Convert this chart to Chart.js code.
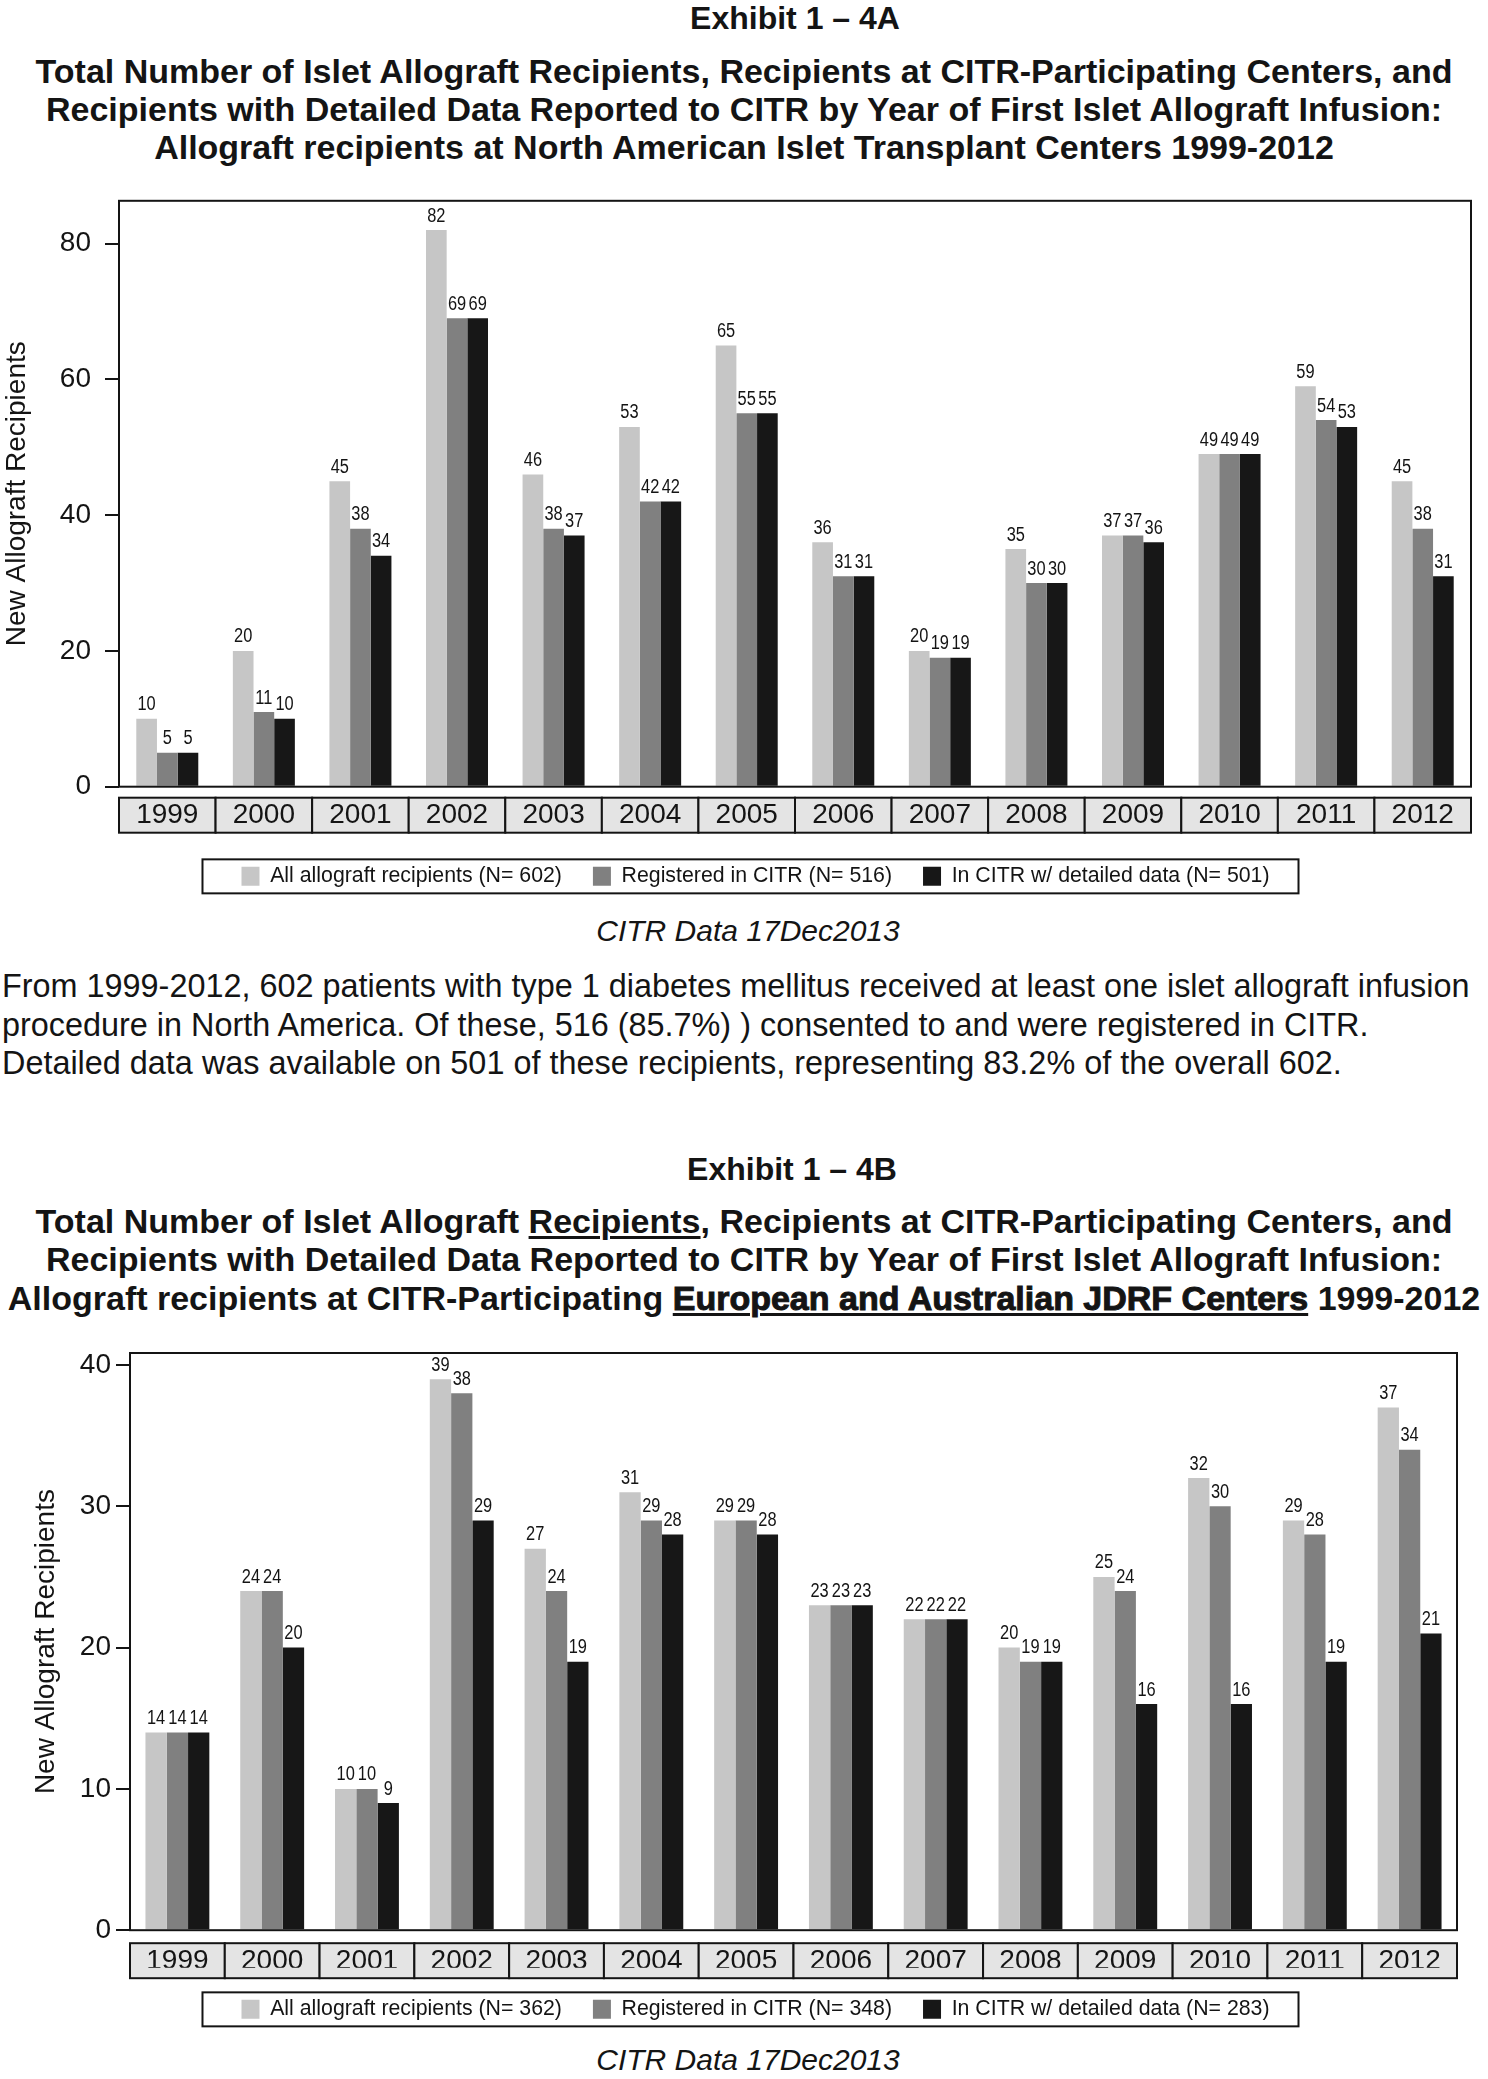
<!DOCTYPE html>
<html>
<head>
    <meta charset="UTF-8">
    <title>CITR Exhibit 1-4A / 1-4B</title>
    <script src="https://cdn.jsdelivr.net/npm/chart.js@4.4.1/dist/chart.umd.min.js"></script>
    <style>
        body {
            margin: 0;
            width: 1488px;
            height: 2079px;
            position: relative;
            background: #fff;
            color: #141414;
            font-family: "Liberation Sans", Arial, sans-serif;
            overflow: hidden;
        }
        .txt {
            position: absolute;
            white-space: nowrap;
        }
        .exhibit {
            font-weight: bold;
            font-size: 32px;
            line-height: 40px;
            text-align: center;
        }
        .title {
            left: 0;
            width: 1488px;
            font-weight: bold;
            font-size: 34px;
            line-height: 40px;
            text-align: center;
        }
        .u {
            text-decoration: underline;
            text-decoration-thickness: 3px;
            text-underline-offset: 3px;
        }
        .heavy {
            -webkit-text-stroke: 1px #141414;
        }
        .src {
            left: 0;
            width: 1496px;
            font-style: italic;
            font-size: 30px;
            line-height: 36px;
            text-align: center;
        }
        .para {
            left: 2px;
            font-size: 32.4px;
            line-height: 38.5px;
        }
        canvas {
            position: absolute;
            left: 0;
        }
    </style>
</head>
<body>
    <div class="txt exhibit" style="left:595px; width:400px; top:-2px;">Exhibit 1 – 4A</div>
    <div class="txt title" style="top:51px;">Total Number of Islet Allograft Recipients, Recipients at CITR-Participating Centers, and</div>
    <div class="txt title" style="top:89px;">Recipients with Detailed Data Reported to CITR by Year of First Islet Allograft Infusion:</div>
    <div class="txt title" style="top:127px;">Allograft recipients at North American Islet Transplant Centers 1999-2012</div>

    <canvas id="chartA" width="1488" height="727" style="top:170px; width:1488px; height:727px;"></canvas>

    <div class="txt src" style="top:913px;">CITR Data 17Dec2013</div>

    <div class="txt para" style="top:967px;">From 1999-2012, 602 patients with type 1 diabetes mellitus received at least one islet allograft infusion</div>
    <div class="txt para" style="top:1006px;">procedure in North America. Of these, 516 (85.7%) ) consented to and were registered in CITR.</div>
    <div class="txt para" style="top:1044px;">Detailed data was available on 501 of these recipients, representing 83.2% of the overall 602.</div>

    <div class="txt exhibit" style="left:592px; width:400px; top:1149px;">Exhibit 1 – 4B</div>
    <div class="txt title" style="top:1201px;">Total Number of Islet Allograft <span class="u">Recipients</span>, Recipients at CITR-Participating Centers, and</div>
    <div class="txt title" style="top:1239px;">Recipients with Detailed Data Reported to CITR by Year of First Islet Allograft Infusion:</div>
    <div class="txt title" style="top:1278px;">Allograft recipients at CITR-Participating <span class="u heavy">European and Australian JDRF Centers</span> 1999-2012</div>

    <canvas id="chartB" width="1488" height="700" style="top:1330px; width:1488px; height:700px;"></canvas>

    <div class="txt src" style="top:2042px;">CITR Data 17Dec2013</div>

    <script>
        // 年（カテゴリ）
        const years = ['1999', '2000', '2001', '2002', '2003', '2004', '2005',
                       '2006', '2007', '2008', '2009', '2010', '2011', '2012'];

        // Exhibit 1-4A: North American centers
        const naAll = [10, 20, 45, 82, 46, 53, 65, 36, 20, 35, 37, 49, 59, 45];
        const naRegistered = [5, 11, 38, 69, 38, 42, 55, 31, 19, 30, 37, 49, 54, 38];
        const naDetailed = [5, 10, 34, 69, 37, 42, 55, 31, 19, 30, 36, 49, 53, 31];
        const naLegend = ['All allograft recipients (N= 602)', 'Registered in CITR (N= 516)', 'In CITR w/ detailed data (N= 501)'];

        // Exhibit 1-4B: European and Australian JDRF centers
        const euAll = [14, 24, 10, 39, 27, 31, 29, 23, 22, 20, 25, 32, 29, 37];
        const euRegistered = [14, 24, 10, 38, 24, 29, 29, 23, 22, 19, 24, 30, 28, 34];
        const euDetailed = [14, 20, 9, 29, 19, 28, 28, 23, 22, 19, 16, 16, 19, 21];
        const euLegend = ['All allograft recipients (N= 362)', 'Registered in CITR (N= 348)', 'In CITR w/ detailed data (N= 283)'];

        const barColors = ['#c6c6c6', '#808080', '#171717'];
        const ink = '#141414';
        const fontFamily = '"Liberation Sans", Arial, sans-serif';

        Chart.defaults.font.family = fontFamily;
        Chart.defaults.color = ink;

        // 年の帯（グレーの箱）をx軸の下に描く
        const yearBand = {
            id: 'yearBand',
            beforeDraw(chart, args, opts) {
                const {ctx, chartArea} = chart;
                const x = chart.scales.x;
                const w = x.getPixelForValue(1) - x.getPixelForValue(0);
                const top = chartArea.bottom + opts.gap;
                ctx.save();
                ctx.lineWidth = 2;
                ctx.strokeStyle = ink;
                ctx.fillStyle = '#e4e4e4';
                for (let i = 0; i < x.ticks.length; i++) {
                    const left = x.getPixelForValue(i) - w / 2;
                    ctx.fillRect(left, top, w, opts.height);
                    ctx.strokeRect(left, top, w, opts.height);
                }
                ctx.restore();
            },
            afterDraw(chart) {
                const {ctx, chartArea} = chart;
                ctx.save();
                ctx.lineWidth = 2;
                ctx.strokeStyle = ink;
                ctx.strokeRect(chartArea.left, chartArea.top,
                               chartArea.right - chartArea.left, chartArea.bottom - chartArea.top);
                // 凡例の枠
                const boxes = chart.legend.legendHitBoxes;
                if (boxes && boxes.length) {
                    const first = boxes[0];
                    const last = boxes[boxes.length - 1];
                    const cy = first.top + first.height / 2;
                    const l = first.left - 39;
                    const r = last.left + last.width + 29;
                    ctx.strokeRect(l, cy - 17, r - l, 34);
                }
                ctx.restore();
            }
        };

        // 棒の上に値を表示（少し細い字）
        const valueLabels = {
            id: 'valueLabels',
            afterDatasetsDraw(chart) {
                const {ctx} = chart;
                ctx.save();
                ctx.font = '20px ' + fontFamily;
                ctx.fillStyle = ink;
                ctx.textAlign = 'center';
                ctx.textBaseline = 'bottom';
                chart.data.datasets.forEach((ds, di) => {
                    chart.getDatasetMeta(di).data.forEach((bar, i) => {
                        ctx.save();
                        ctx.translate(bar.x, bar.y - 4);
                        ctx.scale(0.82, 1);
                        ctx.fillText(String(ds.data[i]), 0, 0);
                        ctx.restore();
                    });
                });
                ctx.restore();
            }
        };

        function makeChart(id, series, labels, cfg) {
            return new Chart(document.getElementById(id), {
                type: 'bar',
                data: {
                    labels: years,
                    datasets: series.map((s, i) => ({
                        label: labels[i],
                        data: s,
                        backgroundColor: barColors[i],
                        borderWidth: 0,
                        categoryPercentage: cfg.catPct,
                        barPercentage: 1
                    }))
                },
                options: {
                    responsive: false,
                    animation: false,
                    layout: {padding: {top: cfg.padTop, right: cfg.padRight, left: cfg.padLeft, bottom: 0}},
                    plugins: {
                        legend: {
                            position: 'bottom',
                            labels: {
                                font: {size: 21.3},
                                color: ink,
                                boxWidth: 18,
                                boxHeight: 19,
                                padding: 31
                            }
                        },
                        tooltip: {enabled: false},
                        yearBand: {gap: cfg.bandGap, height: 35}
                    },
                    scales: {
                        x: {
                            grid: {display: false, drawTicks: false},
                            border: {display: false},
                            ticks: {font: {size: 28}, color: ink, padding: cfg.xPad, maxRotation: 0, autoSkip: false},
                            afterFit: s => { s.height = cfg.xHeight; }
                        },
                        y: {
                            min: 0,
                            max: cfg.yMax,
                            border: {display: false},
                            grid: {display: true, drawOnChartArea: false, drawTicks: true, tickLength: 14, color: ink, lineWidth: 2},
                            ticks: {stepSize: cfg.step, includeBounds: false, font: {size: 28}, color: ink, padding: cfg.yPad},
                            title: {
                                display: true,
                                text: 'New Allograft Recipients',
                                font: {size: 28},
                                color: ink,
                                padding: {top: cfg.titlePad - cfg.padLeft, bottom: 0}
                            },
                            afterFit: s => { s.width = cfg.plotLeft - cfg.padLeft; }
                        }
                    }
                },
                plugins: [yearBand, valueLabels]
            });
        }

        makeChart('chartA', [naAll, naRegistered, naDetailed], naLegend, {
            catPct: 0.642, padTop: 27, padRight: 17, padLeft: 40, bandGap: 11, xPad: 12, xHeight: 48,
            yMax: 86.3, step: 20, yPad: 14, titlePad: 0, plotLeft: 119
        });

        makeChart('chartB', [euAll, euRegistered, euDetailed], euLegend, {
            catPct: 0.674, padTop: 23, padRight: 31, padLeft: 54, bandGap: 13, xPad: 14, xHeight: 37.5,
            yMax: 40.85, step: 10, yPad: 5, titlePad: 29, plotLeft: 130
        });
    </script>
</body>
</html>
